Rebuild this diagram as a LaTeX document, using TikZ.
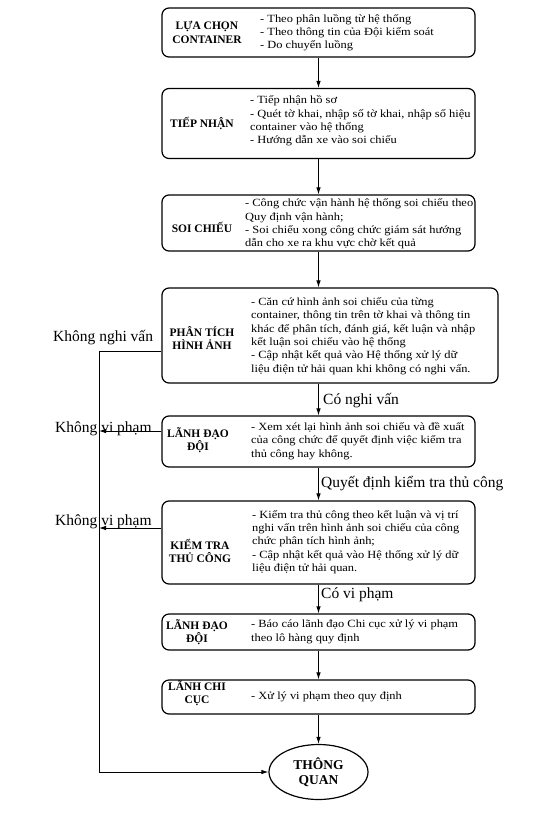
\documentclass[tikz,border=0pt]{standalone}
\usepackage{fontspec}
\setmainfont{Liberation Serif}
\newfontfamily\descfont{Liberation Serif}[FakeStretch=1.13]
\usetikzlibrary{arrows.meta,shapes.geometric}
\begin{document}
\begin{tikzpicture}[x=1pt,y=-1pt,
  box/.style={draw, line width=1.2pt, rounded corners=7pt, minimum width=313pt, inner sep=0pt},
  title/.style={font=\fontsize{11.5}{13.5}\selectfont\bfseries, align=center, inner sep=0pt},
  desc/.style={font=\descfont\fontsize{11}{13.3}\selectfont, align=left, anchor=west, inner sep=0pt},
  lbl/.style={font=\fontsize{15.5}{17}\selectfont, inner sep=0pt},
  conn/.style={line width=0.9pt},
  arr/.style={conn, -{Latex[length=7pt,width=4.5pt]}}]
\useasboundingbox (0,0) rectangle (539,820);
\fill[white] (0,0) rectangle (539,820);

% boxes
\node[box, minimum height=49pt] (b1) at (318.5,32.5) {};
\node[box, minimum height=70pt] (b2) at (318.5,123.5) {};
\node[box, minimum height=56pt] (b3) at (318.5,223) {};
\node[box, minimum height=95pt, minimum width=336pt] (b4) at (330,335.5) {};
\node[box, minimum height=51pt] (b5) at (318.5,441.5) {};
\node[box, minimum height=83pt] (b6) at (318.5,542.5) {};
\node[box, minimum height=36pt] (b7) at (318.5,632) {};
\node[box, minimum height=34pt] (b8) at (318.5,697) {};
\node[draw, ellipse, line width=1.2pt, minimum width=99pt, minimum height=55pt, inner sep=0pt,
      font=\fontsize{13.5}{15.5}\selectfont\bfseries, align=center] (e) at (318.5,772) {THÔNG\\QUAN};

% titles
\node[title] (t1) at (207,32.5) {LỰA CHỌN\\CONTAINER};
\node[title] (t2) at (202,124) {TIẾP NHẬN};
\node[title] (t3) at (202,227) {SOI CHIẾU};
\node[title] (t4) at (202,338) {PHÂN TÍCH\\HÌNH ẢNH};
\node[title] (t5) at (198,440) {LÃNH ĐẠO\\ĐỘI};
\node[title] (t6) at (200,551) {KIỂM TRA\\THỦ CÔNG};
\node[title] (t7) at (197,632) {LÃNH ĐẠO\\ĐỘI};
\node[title] (t8) at (197,693) {LÃNH CHI\\CỤC};

% descriptions
\node[desc] (d1) at (260,32.5) {- Theo phân luồng từ hệ thống\\- Theo thông tin của Đội kiểm soát\\- Do chuyển luồng};
\node[desc] (d2) at (250,121) {- Tiếp nhận hồ sơ\\- Quét tờ khai, nhập số tờ khai, nhập số hiệu\\container vào hệ thống\\- Hướng dẫn xe vào soi chiếu};
\node[desc] (d3) at (245,224) {- Công chức vận hành hệ thống soi chiếu theo\\Quy định vận hành;\\- Soi chiếu xong công chức giám sát hướng\\dẫn cho xe ra khu vực chờ kết quả};
\node[desc] (d4) at (251,336) {- Căn cứ hình ảnh soi chiếu của từng\\container, thông tin trên tờ khai và thông tin\\khác để phân tích, đánh giá, kết luận và nhập\\kết luận soi chiếu vào hệ thống\\- Cập nhật kết quả vào Hệ thống xử lý dữ\\liệu điện tử hải quan khi không có nghi vấn.};
\node[desc] (d5) at (251,441) {- Xem xét lại hình ảnh soi chiếu và đề xuất\\của công chức để quyết định việc kiểm tra\\thủ công hay không.};
\node[desc] (d6) at (252,542) {- Kiểm tra thủ công theo kết luận và vị trí\\nghi vấn trên hình ảnh soi chiếu của công\\chức phân tích hình ảnh;\\- Cập nhật kết quả vào Hệ thống xử lý dữ\\liệu điện tử hải quan.};
\node[desc] (d7) at (251,632) {- Báo cáo lãnh đạo Chi cục xử lý vi phạm\\theo lô hàng quy định};
\node[desc] (d8) at (251,697) {- Xử lý vi phạm theo quy định};

% vertical connectors
\draw[arr] (b1.south) -- (b2.north);
\draw[arr] (b2.south) -- (b3.north);
\draw[arr] (b3.south) -- (b3.south |- b4.north);
\draw[arr] (b4.south -| b5.north) -- (b5.north);
\draw[arr] (b5.south) -- (b6.north);
\draw[arr] (b6.south) -- (b7.north);
\draw[arr] (b7.south) -- (b8.north);
\draw[arr] (b8.south) -- (e.north);

% left return line
\coordinate (cL) at (99,772);
\draw[arr] ([yshift=-15.5pt]b4.west) -| (cL) -- (e.west);
\draw[arr] ([yshift=10.5pt]b5.west) -- ([yshift=10.5pt]b5.west -| cL);
\draw[arr] ([yshift=14.5pt]b6.west) -- ([yshift=14.5pt]b6.west -| cL);

% labels
\node[lbl, anchor=west] (l1) at (53,338) {Không nghi vấn};
\node[lbl, anchor=west] (l2) at (323,401) {Có nghi vấn};
\node[lbl, anchor=west] (l3) at (55,429) {Không vi phạm};
\node[lbl, anchor=west] (l4) at (321,484) {Quyết định kiểm tra thủ công};
\node[lbl, anchor=west] (l5) at (55,522) {Không vi phạm};
\node[lbl, anchor=west] (l6) at (321,595) {Có vi phạm};
\end{tikzpicture}
\end{document}
